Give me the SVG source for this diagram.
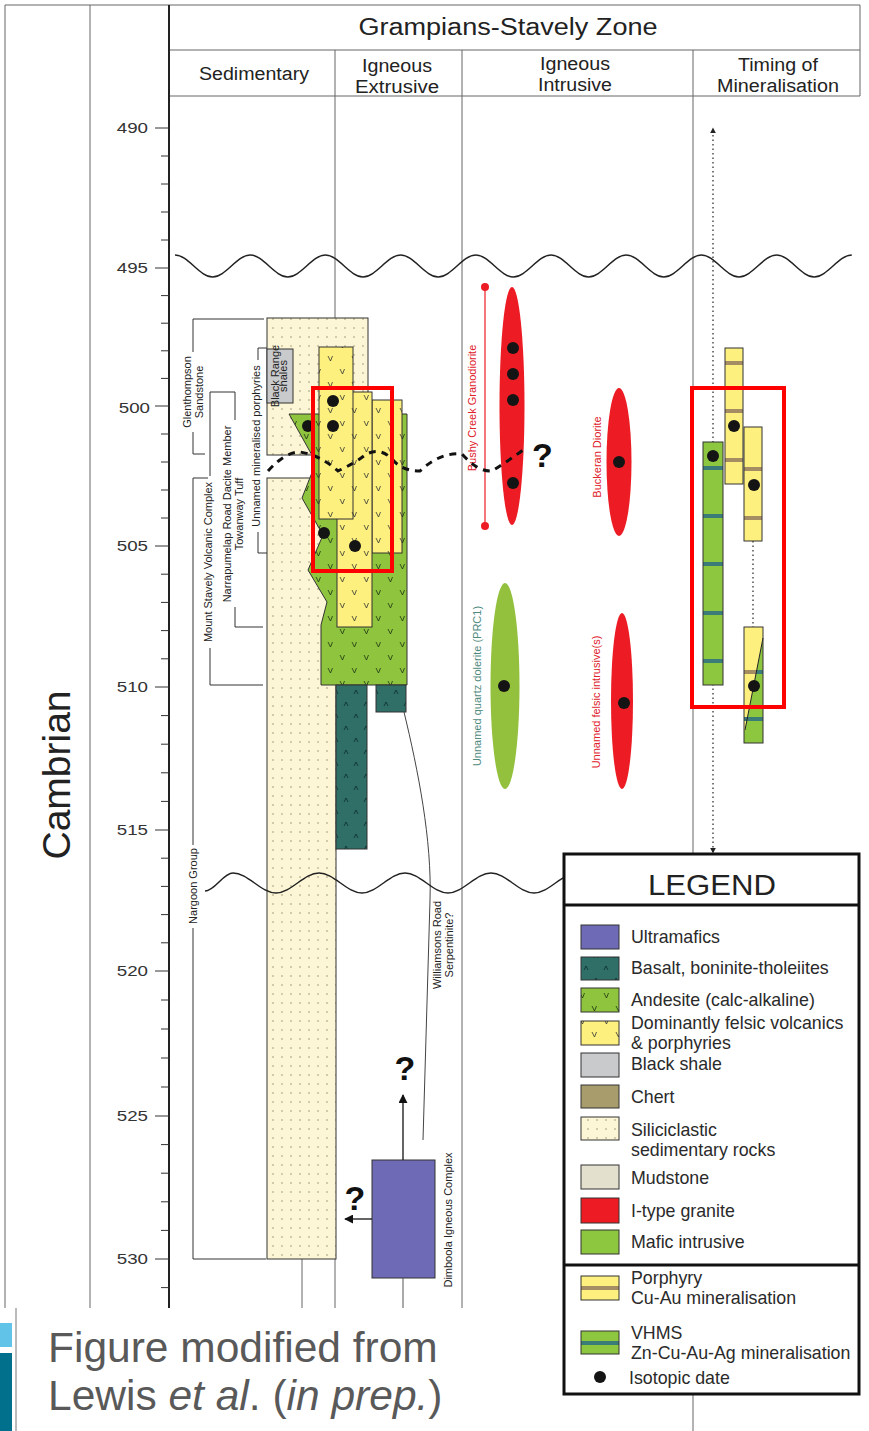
<svg xmlns="http://www.w3.org/2000/svg" width="869" height="1431" viewBox="0 0 869 1431">
<style>
.t{font-family:"Liberation Sans",Arial,sans-serif;fill:#222}
.fr{stroke:#666;stroke-width:1;fill:none}
.br{stroke:#333;stroke-width:1;fill:none}
.lab{font-family:"Liberation Sans",Arial,sans-serif;font-size:11px;fill:#222}
.ax{font-family:"Liberation Sans",Arial,sans-serif;font-size:15px;fill:#333}
.dot{fill:#141414}
.lg{font-family:"Liberation Sans",Arial,sans-serif;font-size:17.8px;fill:#2a2a2a}
.q{font-family:"Liberation Sans",Arial,sans-serif;font-weight:bold;font-size:34px;fill:#111}
.ol{stroke:#333;stroke-width:1}
.hl{fill:none;stroke:#ff0000;stroke-width:4}
.red{fill:#ed1c24}
.wave{fill:none;stroke:#222;stroke-width:1.5}
</style>
<defs>
<pattern id="pSil" width="9" height="9" patternUnits="userSpaceOnUse">
<rect width="9" height="9" fill="#fcf6d6"/><circle cx="3" cy="4" r="0.8" fill="#9a9274"/>
</pattern>
<pattern id="pFel" width="24" height="26" patternUnits="userSpaceOnUse">
<rect width="24" height="26" fill="#fdf07e"/>
<path d="M4,5 l2.5,5 l2,-5 M16,18 l2.5,5 l2,-5" fill="none" stroke="#333" stroke-width="0.8"/>
</pattern>
<pattern id="pAnd" width="24" height="26" patternUnits="userSpaceOnUse">
<rect width="24" height="26" fill="#8fc43e"/>
<path d="M4,5 l2.5,5 l2,-5 M16,18 l2.5,5 l2,-5" fill="none" stroke="#1d3310" stroke-width="0.8"/>
</pattern>
<pattern id="pBas" width="20" height="24" patternUnits="userSpaceOnUse">
<rect width="20" height="24" fill="#2f6f68"/>
<path d="M4,10 l2,-4 l2,4 M14,22 l2,-4 l2,4" fill="none" stroke="#0c2b28" stroke-width="0.8"/>
</pattern>
<marker id="arr" viewBox="0 0 10 10" refX="9" refY="5" markerWidth="9" markerHeight="9" markerUnits="userSpaceOnUse" orient="auto">
<path d="M0,0 L10,5 L0,10 z" fill="#111"/>
</marker>
<marker id="arrs" viewBox="0 0 10 10" refX="9" refY="5" markerWidth="6" markerHeight="6" markerUnits="userSpaceOnUse" orient="auto">
<path d="M0,0 L10,5 L0,10 z" fill="#222"/>
</marker>
</defs>
<rect width="869" height="1431" fill="#fff"/>

<g id="frame">
<path class="fr" d="M5,5 H860 M168,50 H860 M168,96 H860 M860,5 V96 M5,5 V1308 M90,5 V1308 M335,50 V1308 M462,50 V1308 M693,50 V1431 M302,1259 V1308"/>
<line x1="169" y1="5" x2="169" y2="1308" stroke="#222" stroke-width="2"/>
<rect x="0" y="1323" width="12" height="24" fill="#62c3e8"/>
<rect x="0" y="1353" width="12" height="78" fill="#00708c"/>
<line x1="16" y1="1308" x2="16" y2="1431" stroke="#777"/>
</g>

<g id="header" class="t">
<text x="508" y="35" font-size="23" text-anchor="middle" textLength="299" lengthAdjust="spacingAndGlyphs">Grampians-Stavely Zone</text>
<text x="254" y="80" font-size="18" text-anchor="middle" textLength="110" lengthAdjust="spacingAndGlyphs">Sedimentary</text>
<text x="397" y="72" font-size="18" text-anchor="middle" textLength="70" lengthAdjust="spacingAndGlyphs">Igneous</text>
<text x="397" y="93" font-size="18" text-anchor="middle" textLength="84" lengthAdjust="spacingAndGlyphs">Extrusive</text>
<text x="575" y="70" font-size="18" text-anchor="middle" textLength="70" lengthAdjust="spacingAndGlyphs">Igneous</text>
<text x="575" y="91" font-size="18" text-anchor="middle" textLength="74" lengthAdjust="spacingAndGlyphs">Intrusive</text>
<text x="778" y="71" font-size="18" text-anchor="middle" textLength="80" lengthAdjust="spacingAndGlyphs">Timing of</text>
<text x="778" y="92" font-size="18" text-anchor="middle" textLength="122" lengthAdjust="spacingAndGlyphs">Mineralisation</text>
</g>

<g id="period">
<text class="t" font-size="39" text-anchor="middle" transform="translate(70,775) rotate(-90)">Cambrian</text>
</g>

<g id="axis">
<path stroke="#333" stroke-width="1" fill="none" d="M155,128 H169 M161,156 H169 M161,184 H169 M161,212 H169 M161,240 H169 M155,268 H169 M161,295.6 H169 M161,323.2 H169 M161,350.8 H169 M161,378.4 H169 M155,406 H169 M161,434 H169 M161,462 H169 M161,490 H169 M161,518 H169 M155,546 H169 M161,574.2 H169 M161,602.4 H169 M161,630.6 H169 M161,658.8 H169 M155,687 H169 M161,715.6 H169 M161,744.2 H169 M161,772.8 H169 M161,801.4 H169 M155,830 H169 M161,858.2 H169 M161,886.4 H169 M161,914.6 H169 M161,942.8 H169 M155,971 H169 M161,1000 H169 M161,1029 H169 M161,1058 H169 M161,1087 H169 M155,1116 H169 M161,1144.6 H169 M161,1173.2 H169 M161,1201.8 H169 M161,1230.4 H169 M155,1259 H169 M161,1287.6 H169"/>
<text class="ax" text-anchor="end" transform="translate(148,133) scale(1.25,1)">490</text>
<text class="ax" text-anchor="end" transform="translate(148,273) scale(1.25,1)">495</text>
<text class="ax" text-anchor="end" font-size="22" transform="translate(150,413) scale(1.25,1)">500</text>
<text class="ax" text-anchor="end" transform="translate(148,551) scale(1.25,1)">505</text>
<text class="ax" text-anchor="end" transform="translate(148,692) scale(1.25,1)">510</text>
<text class="ax" text-anchor="end" transform="translate(148,835) scale(1.25,1)">515</text>
<text class="ax" text-anchor="end" transform="translate(148,976) scale(1.25,1)">520</text>
<text class="ax" text-anchor="end" transform="translate(148,1121) scale(1.25,1)">525</text>
<text class="ax" text-anchor="end" transform="translate(148,1264) scale(1.25,1)">530</text>
</g>

<g id="sedimentary">
<rect x="267" y="318" width="101" height="137" fill="url(#pSil)" class="ol"/>
<rect x="267" y="478" width="69" height="781" fill="url(#pSil)" class="ol"/>
<rect x="267" y="349" width="26" height="54" fill="#c9cacc" class="ol"/>
<text class="lab" font-size="6.8" text-anchor="middle" transform="translate(279,376) rotate(-90)"><tspan x="0" dy="0">Black Range</tspan><tspan x="0" dy="8">shales</tspan></text>
</g>

<g id="extrusive">
<polygon points="289,414 407,414 407,685 321,685 321,625 327,602 308,570 323,535 302,498 313,470 313,457" fill="url(#pAnd)" class="ol"/>
<rect x="336" y="685" width="31" height="164" fill="url(#pBas)" class="ol"/>
<rect x="376" y="685" width="30" height="27" fill="url(#pBas)" class="ol"/>
<rect x="372" y="400" width="30" height="153" fill="url(#pFel)" class="ol"/>
<rect x="337" y="392" width="35" height="235" fill="url(#pFel)" class="ol"/>
<rect x="319" y="347" width="34" height="172" fill="url(#pFel)" class="ol"/>
<circle class="dot" cx="333" cy="401" r="6"/>
<circle class="dot" cx="333" cy="426" r="6"/>
<circle class="dot" cx="308" cy="426" r="6"/>
<circle class="dot" cx="324" cy="533" r="6"/>
<circle class="dot" cx="355" cy="546" r="6"/>
</g>

<g id="dimboola">
<path d="M404,712 C418,770 432,840 430,900 L423,1140" fill="none" stroke="#444" stroke-width="1"/>
<rect x="372" y="1160" width="63" height="118" fill="#6f6ab5" stroke="#333"/>
<line x1="403" y1="1160" x2="403" y2="1095" stroke="#111" stroke-width="1.3" marker-end="url(#arr)"/>
<line x1="372" y1="1219" x2="345" y2="1219" stroke="#111" stroke-width="1.3" marker-end="url(#arr)"/>
<line x1="403" y1="1278" x2="403" y2="1308" stroke="#555"/>
<text class="q" x="405" y="1080" text-anchor="middle">?</text>
<text class="q" x="355" y="1210" text-anchor="middle">?</text>
<text class="lab" text-anchor="middle" transform="translate(452,1220) rotate(-90)">Dimboola Igneous Complex</text>
<text class="lab" text-anchor="middle" transform="translate(441,945) rotate(-90)"><tspan x="0" dy="0">Williamsons Road</tspan><tspan x="0" dy="12">Serpentinite?</tspan></text>
</g>

<g id="intrusive">
<line x1="485" y1="287" x2="485" y2="526" stroke="#ed1c24" stroke-width="1.2"/>
<circle class="red" cx="485" cy="287" r="4"/>
<circle class="red" cx="485" cy="526" r="4"/>
<ellipse class="red" cx="512" cy="406" rx="12.5" ry="119"/>
<circle class="dot" cx="513" cy="348" r="6"/>
<circle class="dot" cx="513" cy="374" r="6"/>
<circle class="dot" cx="513" cy="400" r="6"/>
<circle class="dot" cx="513" cy="483" r="6"/>
<text class="lab" style="fill:#e0202a" text-anchor="middle" transform="translate(476,408) rotate(-90)">Bushy Creek Granodiorite</text>
<ellipse class="red" cx="619" cy="462" rx="12.5" ry="74"/>
<circle class="dot" cx="619" cy="462" r="6"/>
<text class="lab" style="fill:#e0202a" text-anchor="middle" transform="translate(601,457) rotate(-90)">Buckeran Diorite</text>
<ellipse cx="505" cy="686" rx="14.5" ry="103" fill="#93c13e"/>
<circle class="dot" cx="504" cy="686" r="6"/>
<text class="lab" style="fill:#4f8a80" text-anchor="middle" transform="translate(481,686) rotate(-90)">Unnamed quartz dolerite (PRC1)</text>
<ellipse class="red" cx="622" cy="701" rx="11" ry="88"/>
<circle class="dot" cx="624" cy="703" r="6"/>
<text class="lab" style="fill:#e0202a" text-anchor="middle" transform="translate(600,702) rotate(-90)">Unnamed felsic intrusive(s)</text>
</g>

<g id="timing">
<line x1="713" y1="852" x2="713" y2="128" stroke="#333" stroke-width="1.3" stroke-dasharray="1.5 3" marker-end="url(#arrs)"/>
<line x1="713" y1="135" x2="713" y2="853" stroke="none" marker-end="url(#arrs)"/>
<line x1="753" y1="541" x2="753" y2="627" stroke="#333" stroke-width="1.3" stroke-dasharray="1.5 3"/>
<rect x="703" y="442" width="20" height="243" fill="#8dc63f"/>
<g fill="#3b7b78"><rect x="703" y="466" width="20" height="4"/><rect x="703" y="514" width="20" height="4"/><rect x="703" y="562" width="20" height="4"/><rect x="703" y="611" width="20" height="4"/><rect x="703" y="659" width="20" height="4"/></g>
<rect x="703" y="442" width="20" height="243" fill="none" class="ol"/>
<rect x="725" y="348" width="18" height="136" fill="#fdf07e"/>
<g fill="#a58d63"><rect x="725" y="361" width="18" height="4"/><rect x="725" y="409" width="18" height="4"/><rect x="725" y="458" width="18" height="4"/></g>
<rect x="725" y="348" width="18" height="136" fill="none" class="ol"/>
<rect x="744" y="427" width="18" height="114" fill="#fdf07e"/>
<g fill="#a58d63"><rect x="744" y="467" width="18" height="4"/><rect x="744" y="516" width="18" height="4"/></g>
<rect x="744" y="427" width="18" height="114" fill="none" class="ol"/>
<polygon points="744,627 763,627 763,638 745,730 744,730" fill="#fdf07e"/>
<polygon points="763,638 763,743 744,743 744,730 745,730" fill="#8dc63f"/>
<rect x="744" y="670" width="12" height="4" fill="#a58d63"/>
<rect x="756" y="670" width="7" height="4" fill="#3b7b78"/>
<rect x="744" y="717" width="19" height="4" fill="#3b7b78"/>
<line x1="763" y1="638" x2="745" y2="730" stroke="#222" stroke-width="1"/>
<rect x="744" y="627" width="19" height="116" fill="none" class="ol"/>
<circle class="dot" cx="713" cy="456" r="6"/>
<circle class="dot" cx="734" cy="426" r="6"/>
<circle class="dot" cx="754" cy="485" r="6"/>
<circle class="dot" cx="754" cy="686" r="6"/>
</g>

<g id="brackets">
<path class="br" d="M264,319 H193 V352 M193,432 V454 H205"/>
<text class="lab" text-anchor="middle" transform="translate(191,392) rotate(-90)"><tspan x="0" dy="0">Glenthompson</tspan><tspan x="0" dy="12">Sandstone</tspan></text>
<path class="br" d="M235,392 H210 V476 M210,648 V685 H263"/>
<text class="lab" text-anchor="middle" transform="translate(212,562) rotate(-90)">Mount Stavely Volcanic Complex</text>
<path class="br" d="M235,392 V420 M235,607 V627 H263"/>
<text class="lab" text-anchor="middle" transform="translate(231,514) rotate(-90)"><tspan x="0" dy="0">Narrapumelap Road Dacite Member</tspan><tspan x="0" dy="12">Towanway Tuff</tspan></text>
<path class="br" d="M267,348 H258 V360 M258,532 V553 H267"/>
<text class="lab" text-anchor="middle" transform="translate(260,446) rotate(-90)">Unnamed mineralised porphyries</text>
<path class="br" d="M208,478 H193 V845 M193,928 V1259 H266"/>
<text class="lab" text-anchor="middle" transform="translate(197,886) rotate(-90)">Nargoon Group</text>
</g>

<g id="connectors">
<path d="M268,471 Q285,452 300,452 Q320,455 338,471 Q355,463 365,455 Q380,446 393,460 Q402,471 420,471 Q440,452 462,454 Q478,472 492,471 Q510,460 527,447" fill="none" stroke="#111" stroke-width="3" stroke-dasharray="7 6"/>
<text class="q" x="532" y="467">?</text>
<path class="wave" d="M175,255 c13.2,0 24.4,22 37.6,22 s24.4,-22 37.6,-22 s24.4,22 37.6,22 s24.4,-22 37.6,-22 s24.4,22 37.6,22 s24.4,-22 37.6,-22 s24.4,22 37.6,22 s24.4,-22 37.6,-22 s24.4,22 37.6,22 s24.4,-22 37.6,-22 s24.4,22 37.6,22 s24.4,-22 37.6,-22 s24.4,22 37.6,22 s24.4,-22 37.6,-22 s24.4,22 37.6,22 s24.4,-22 37.6,-22 s24.4,22 37.6,22 s24.4,-22 37.6,-22"/>
<path class="wave" d="M205,891 c10,0 18,-18 28,-18 c15,0 28,20 43,20 s28,-20 43,-20 s28,20 43,20 s28,-20 43,-20 s28,20 43,20 s28,-20 43,-20 s28,20 43,20 s28,-20 43,-20"/>
</g>

<g id="highlights">
<rect class="hl" x="313" y="388" width="79" height="183"/>
<rect class="hl" x="692" y="388" width="92" height="319"/>
</g>

<g id="legend">
<rect x="564" y="854" width="295" height="540" fill="#fff" stroke="#111" stroke-width="3"/>
<line x1="564" y1="905" x2="859" y2="905" stroke="#111" stroke-width="3"/>
<line x1="564" y1="1265" x2="859" y2="1265" stroke="#111" stroke-width="3"/>
<text class="t" x="712" y="895" font-size="30" text-anchor="middle" textLength="128" lengthAdjust="spacingAndGlyphs">LEGEND</text>
<rect x="581" y="925" width="38" height="24" fill="#6f6ab5" class="ol"/>
<rect x="581" y="957" width="38" height="23" fill="url(#pBas)" class="ol"/>
<rect x="581" y="988" width="38" height="24" fill="url(#pAnd)" class="ol"/>
<rect x="581" y="1021" width="38" height="24" fill="url(#pFel)" class="ol"/>
<rect x="581" y="1053" width="38" height="24" fill="#c9cacc" class="ol"/>
<rect x="581" y="1085" width="38" height="23" fill="#a89c6c" class="ol"/>
<rect x="581" y="1117" width="38" height="23" fill="url(#pSil)" class="ol"/>
<rect x="581" y="1165" width="38" height="24" fill="#e3e0ce" class="ol"/>
<rect x="581" y="1198" width="38" height="25" fill="#ed1c24" class="ol"/>
<rect x="581" y="1230" width="38" height="24" fill="#8dc63f" class="ol"/>
<rect x="581" y="1276" width="38" height="24" fill="#fdf07e"/>
<rect x="581" y="1286" width="38" height="4" fill="#a58d63"/>
<rect x="581" y="1276" width="38" height="24" fill="none" class="ol"/>
<rect x="581" y="1331" width="38" height="23" fill="#8dc63f"/>
<rect x="581" y="1341" width="38" height="4" fill="#3b7b78"/>
<rect x="581" y="1331" width="38" height="23" fill="none" class="ol"/>
<circle class="dot" cx="600" cy="1377" r="6"/>
<text class="lg" x="631" y="943">Ultramafics</text>
<text class="lg" x="631" y="974">Basalt, boninite-tholeiites</text>
<text class="lg" x="631" y="1006">Andesite (calc-alkaline)</text>
<text class="lg" x="631" y="1029">Dominantly felsic volcanics</text>
<text class="lg" x="631" y="1049">&amp; porphyries</text>
<text class="lg" x="631" y="1070">Black shale</text>
<text class="lg" x="631" y="1103">Chert</text>
<text class="lg" x="631" y="1136">Siliciclastic</text>
<text class="lg" x="631" y="1156">sedimentary rocks</text>
<text class="lg" x="631" y="1184">Mudstone</text>
<text class="lg" x="631" y="1217">I-type granite</text>
<text class="lg" x="631" y="1248">Mafic intrusive</text>
<text class="lg" x="631" y="1284">Porphyry</text>
<text class="lg" x="631" y="1304">Cu-Au mineralisation</text>
<text class="lg" x="631" y="1339">VHMS</text>
<text class="lg" x="631" y="1359">Zn-Cu-Au-Ag mineralisation</text>
<text class="lg" x="629" y="1384">Isotopic date</text>
</g>

<g id="caption">
<text class="t" x="48" y="1362" font-size="42.5" style="fill:#595959">Figure modified from</text>
<text class="t" x="48" y="1410" font-size="42.5" style="fill:#595959">Lewis <tspan font-style="italic">et al</tspan>. (<tspan font-style="italic">in prep.</tspan>)</text>
</g>
</svg>
